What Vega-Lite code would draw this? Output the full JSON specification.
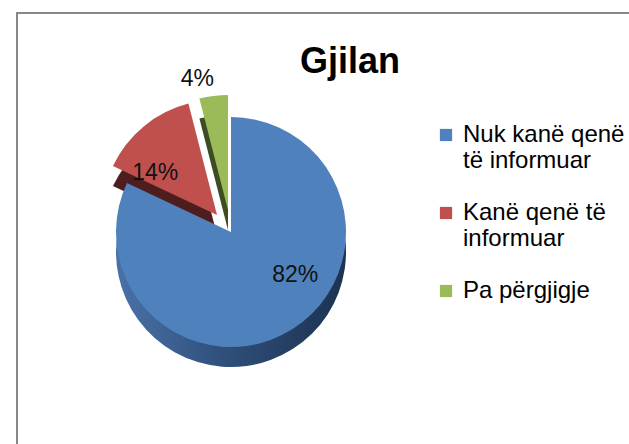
{
  "$schema": "https://vega.github.io/schema/vega-lite/v6.json",
  "autosize": {"type": "none"},
  "width": 640,
  "height": 460,
  "padding": {"left": 17, "top": 13, "right": 0, "bottom": 0},
  "background": "white",
  "view": {"stroke": "#878787", "strokeWidth": 2, "fill": "white"},
  "config": {
    "view": {"stroke": "#878787", "strokeWidth": 2},
    "font": "Liberation Sans"
  },
  "title": {
    "text": "Gjilan",
    "font": "Liberation Sans",
    "fontSize": 36,
    "fontWeight": "bold",
    "color": "#000000",
    "anchor": "middle",
    "dx": 13,
    "offset": -68
  },
  "data": {
    "values": [
      {"cat": "Nuk kanë qenë të informuar", "v": 82, "label": "82%"},
      {"cat": "Kanë qenë të informuar", "v": 14, "label": "14%"},
      {"cat": "Pa përgjigje", "v": 4, "label": "4%"}
    ]
  },
  "transform": [
    {"window": [{"op": "row_number", "as": "ord"}]},
    {"stack": "v", "groupby": [], "sort": [{"field": "ord"}], "as": ["t0", "t1"]},
    {"calculate": "(datum.t0 + datum.t1) / 2", "as": "mid"}
  ],
  "layer": [
    {
      "transform": [{"filter": "datum.cat == 'Kanë qenë të informuar'"}],
      "mark": {"type": "arc", "outerRadius": 115, "color": "#4d1e1d", "xOffset": -120, "yOffset": -8},
      "encoding": {
        "theta": {"field": "t0", "type": "quantitative", "scale": {"domain": [0, 100]}},
        "theta2": {"field": "t1"}
      }
    },
    {
      "transform": [{"filter": "datum.cat == 'Kanë qenë të informuar'"}],
      "mark": {"type": "arc", "outerRadius": 115, "xOffset": -120, "yOffset": -28},
      "encoding": {
        "theta": {"field": "t0", "type": "quantitative", "scale": {"domain": [0, 100]}},
        "theta2": {"field": "t1"},
        "color": {
          "field": "cat", "type": "nominal",
          "scale": {
            "domain": ["Nuk kanë qenë të informuar", "Kanë qenë të informuar", "Pa përgjigje"],
            "range": ["#4F81BD", "#C0504D", "#9BBB59"]
          },
          "legend": {
            "title": null,
            "orient": "none",
            "legendX": 417,
            "legendY": 110,
            "symbolType": "square",
            "symbolSize": 150,
            "symbolStrokeWidth": 0,
            "labelFont": "Liberation Sans",
            "labelFontSize": 24,
            "labelColor": "#000000",
            "labelLimit": 300,
            "rowPadding": 28,
            "labelOffset": 5,
            "labelExpr": "datum.label == 'Nuk kanë qenë të informuar' ? ['Nuk kanë qenë', 'të informuar'] : datum.label == 'Kanë qenë të informuar' ? ['Kanë qenë të', 'informuar'] : datum.label"
          }
        }
      }
    },
    {
      "transform": [{"filter": "datum.cat == 'Pa përgjigje'"}],
      "mark": {"type": "arc", "outerRadius": 115, "color": "#3d4c22", "xOffset": -109, "yOffset": -13},
      "encoding": {
        "theta": {"field": "t0", "type": "quantitative", "scale": {"domain": [0, 100]}},
        "theta2": {"field": "t1"}
      }
    },
    {
      "transform": [{"filter": "datum.cat == 'Pa përgjigje'"}],
      "mark": {"type": "arc", "outerRadius": 115, "xOffset": -109, "yOffset": -33},
      "encoding": {
        "theta": {"field": "t0", "type": "quantitative", "scale": {"domain": [0, 100]}},
        "theta2": {"field": "t1"},
        "color": {"field": "cat", "type": "nominal"}
      }
    },
    {
      "transform": [{"filter": "datum.cat == 'Nuk kanë qenë të informuar'"}],
      "mark": {
        "type": "arc", "outerRadius": 115, "xOffset": -106, "yOffset": 9,
        "color": {
          "gradient": "linear", "x1": 0, "x2": 1, "y1": 0, "y2": 0,
          "stops": [
            {"offset": 0, "color": "#4a72a8"},
            {"offset": 0.5, "color": "#2e4d77"},
            {"offset": 1, "color": "#1c3250"}
          ]
        }
      },
      "encoding": {
        "theta": {"field": "t0", "type": "quantitative", "scale": {"domain": [0, 100]}},
        "theta2": {"field": "t1"}
      }
    },
    {
      "transform": [{"filter": "datum.cat == 'Nuk kanë qenë të informuar'"}],
      "mark": {"type": "arc", "outerRadius": 115, "xOffset": -106, "yOffset": -11},
      "encoding": {
        "theta": {"field": "t0", "type": "quantitative", "scale": {"domain": [0, 100]}},
        "theta2": {"field": "t1"},
        "color": {"field": "cat", "type": "nominal"}
      }
    },
    {
      "transform": [{"filter": "datum.cat == 'Nuk kanë qenë të informuar'"}],
      "mark": {"type": "text", "radius": 60, "xOffset": -106, "yOffset": -11, "dx": 32, "dy": -8, "fontSize": 23, "color": "#111111"},
      "encoding": {
        "theta": {"field": "mid", "type": "quantitative", "scale": {"domain": [0, 100]}, "stack": null},
        "text": {"field": "label"}
      }
    },
    {
      "transform": [{"filter": "datum.cat == 'Kanë qenë të informuar'"}],
      "mark": {"type": "text", "radius": 75, "xOffset": -120, "yOffset": -28, "dx": -14, "dy": 16, "fontSize": 23, "color": "#111111"},
      "encoding": {
        "theta": {"field": "mid", "type": "quantitative", "scale": {"domain": [0, 100]}, "stack": null},
        "text": {"field": "label"}
      }
    },
    {
      "transform": [{"filter": "datum.cat == 'Pa përgjigje'"}],
      "mark": {"type": "text", "radius": 132, "xOffset": -109, "yOffset": -33, "dx": -14, "fontSize": 23, "color": "#111111"},
      "encoding": {
        "theta": {"field": "mid", "type": "quantitative", "scale": {"domain": [0, 100]}, "stack": null},
        "text": {"field": "label"}
      }
    }
  ]
}
